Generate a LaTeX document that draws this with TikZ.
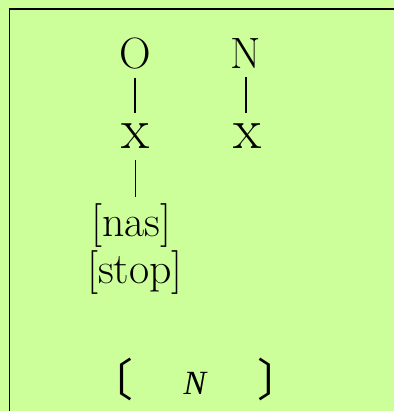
\documentclass[tikz,border=0pt]{standalone}
\usepackage{fontspec}
\newfontfamily\ipafont{Liberation Serif}
\newfontfamily\cjk{Noto Sans CJK SC}
\usetikzlibrary{positioning}
\definecolor{panelgreen}{HTML}{CCFF99}
\newcommand{\tmplbr}[1]{\raisebox{-2.5bp}{\cjk\fontsize{45}{50}\selectfont #1}}

\begin{document}
\begin{tikzpicture}[
        x=1bp, y=-1bp,
        seg/.style={font=\fontsize{44}{50}\selectfont, inner sep=0pt, anchor=base},
        slot/.style={font=\fontsize{58}{62}\selectfont, inner sep=0pt, anchor=base},
        feat/.style={font=\fontsize{44}{50}\selectfont, inner sep=0pt, anchor=base},
        tmpl/.style={font=\fontsize{34}{40}\selectfont\ipafont, inner sep=0pt, anchor=base west},
        assoc/.style={line width=1.3bp, draw=black}
        ]

    % --- panel ---
        \useasboundingbox (0,0) rectangle (394,411);
        \fill[panelgreen] (0,0) rectangle (394,411);
        \draw[line width=1.8bp] (394,9) -- (9.5,9) -- (9.5,411);

    % --- tier 1: segments ---
        \node[seg] (onset) at (135,68) {O};
        \node[seg] (nucleus) at (246,68) {N};

    % --- tier 2: timing slots ---
        \node[slot] (xonset) at (135.5,148) {x};
        \node[slot] (xnucleus) at (248,148) {x};

        \draw[assoc, shorten <=9bp, shorten >=10bp] (onset.south) -- (onset.south |- xonset.north);
        \draw[assoc, shorten <=9bp, shorten >=10bp] (nucleus.south) -- (nucleus.south |- xnucleus.north);

    % --- features under the onset slot ---
        \node[feat] (nas) at (131.5,236) {[nas]};
        \node[feat] (stop) at (135,283) {[stop]};

        \draw[assoc, shorten <=12bp, shorten >=6bp] (xonset.south) -- (xonset.south |- nas.north);

    % --- template ---
        \node[tmpl] (frame) at (88,394)
            {\tmplbr{〔}\hspace{50.5bp}\textit{N}\hspace{50bp}\tmplbr{〕}};

    \end{tikzpicture}
\end{document}
